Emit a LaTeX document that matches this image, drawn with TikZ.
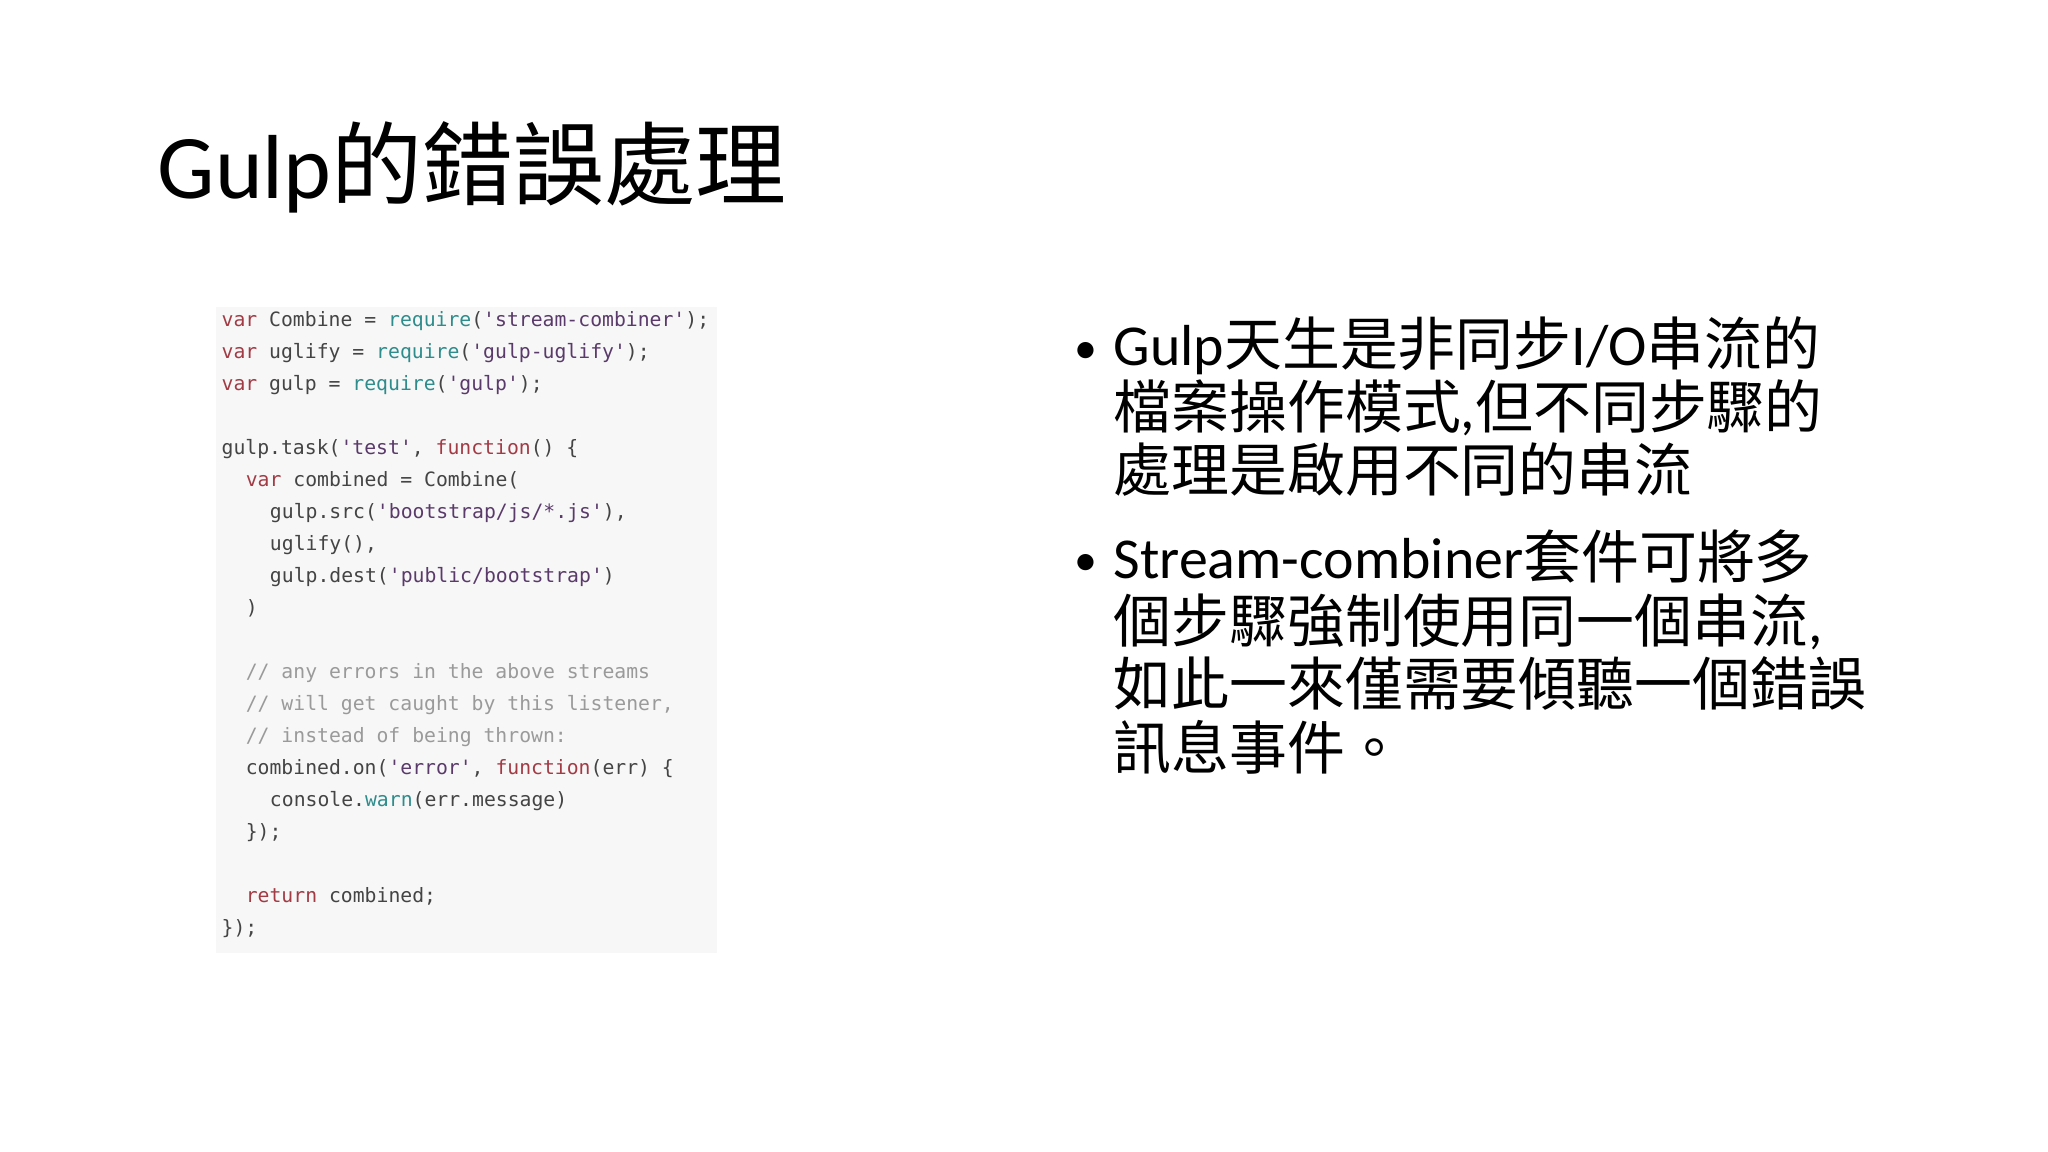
\documentclass[tikz,border=0pt]{standalone}
\usepackage{fontspec}
\setmainfont{Carlito}
\newfontfamily\cjk{Noto Sans CJK TC}
\newfontfamily\codef{DejaVu Sans Mono}
\definecolor{kw}{HTML}{A33B45}
\definecolor{fn}{HTML}{2E8C8C}
\definecolor{st}{HTML}{5A3A6A}
\definecolor{cm}{HTML}{9A9A9A}
\definecolor{tx}{HTML}{444444}
\newcommand{\K}[1]{\textcolor{kw}{#1}}
\newcommand{\F}[1]{\textcolor{fn}{#1}}
\newcommand{\St}[1]{\textcolor{st}{#1}}
\newcommand{\C}[1]{\textcolor{cm}{#1}}
\begin{document}
\begin{tikzpicture}[x=0.01cm,y=-0.01cm,
  codeline/.style={anchor=base west,inner sep=0,text=tx,font=\codef\fontsize{4.3pt}{5pt}\selectfont},
  body/.style={anchor=base west,inner sep=0,font=\fontsize{12.6pt}{13.6pt}\selectfont},
  bul/.style={anchor=base west,inner sep=0,font=\fontsize{10pt}{12pt}\selectfont}]
\useasboundingbox (0,0) rectangle (1568,882);
\node[anchor=base west,inner sep=0,font=\fontsize{19.8pt}{22pt}\selectfont] (title) at (120,152) {Gulp{\cjk 的錯誤處理}};
\fill[fill=black!3] (165,235) rectangle (549,730);
\foreach \i/\ind/\t in {
 0/0/{\K{var} Combine = \F{require}(\St{'stream-combiner'});},
 1/0/{\K{var} uglify = \F{require}(\St{'gulp-uglify'});},
 2/0/{\K{var} gulp = \F{require}(\St{'gulp'});},
 4/0/{gulp.task(\St{'test'}, \K{function}() \{},
 5/1/{\K{var} combined = Combine(},
 6/2/{gulp.src(\St{'bootstrap/js/*.js'}),},
 7/2/{uglify(),},
 8/2/{gulp.dest(\St{'public/bootstrap'})},
 9/1/{)},
 11/1/{\C{// any errors in the above streams}},
 12/1/{\C{// will get caught by this listener,}},
 13/1/{\C{// instead of being thrown:}},
 14/1/{combined.on(\St{'error'}, \K{function}(err) \{},
 15/2/{console.\F{warn}(err.message)},
 16/1/{\});},
 18/1/{\K{return} combined;},
 19/0/{\});}}
  \node[codeline] (c\i) at ({169+18.5*\ind},{250+24.5*\i}) {\t};
\node[bul] (b1) at (822,278) {•};
\node[body] (t1a) at (852,280) {Gulp{\cjk 天生是非同步}I/O{\cjk 串流的}};
\node[body] (t1b) at (852,328) {{\cjk 檔案操作模式},{\cjk 但不同步驟的}};
\node[body] (t1c) at (852,376) {{\cjk 處理是啟用不同的串流}};
\node[bul] (b2) at (822,441) {•};
\node[body] (t2a) at (852,443) {Stream-combiner{\cjk 套件可將多}};
\node[body] (t2b) at (852,492) {{\cjk 個步驟強制使用同一個串流},};
\node[body] (t2c) at (852,540) {{\cjk 如此一來僅需要傾聽一個錯誤}};
\node[body] (t2d) at (852,589) {{\cjk 訊息事件。}};
\end{tikzpicture}
\end{document}
